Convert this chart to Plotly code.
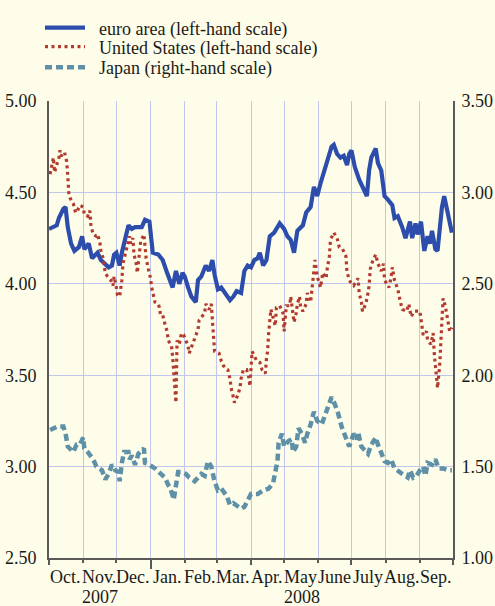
import plotly.graph_objects as go

euro_dates = ["2007-10-01","2007-10-04","2007-10-08","2007-10-10","2007-10-14","2007-10-16","2007-10-18","2007-10-21","2007-10-24","2007-10-28","2007-10-31","2007-11-02","2007-11-06","2007-11-09","2007-11-14","2007-11-17","2007-11-21","2007-11-24","2007-11-27","2007-11-29","2007-12-01","2007-12-04","2007-12-06","2007-12-09","2007-12-12","2007-12-15","2007-12-18","2007-12-24","2007-12-27","2007-12-31","2008-01-03","2008-01-08","2008-01-12","2008-01-16","2008-01-21","2008-01-24","2008-01-27","2008-01-30","2008-02-01","2008-02-04","2008-02-07","2008-02-11","2008-02-13","2008-02-16","2008-02-20","2008-02-23","2008-02-26","2008-02-28","2008-03-02","2008-03-05","2008-03-08","2008-03-13","2008-03-16","2008-03-19","2008-03-23","2008-03-26","2008-03-29","2008-04-01","2008-04-04","2008-04-07","2008-04-09","2008-04-12","2008-04-15","2008-04-18","2008-04-22","2008-04-27","2008-05-01","2008-05-04","2008-05-07","2008-05-10","2008-05-13","2008-05-18","2008-05-21","2008-05-25","2008-05-28","2008-05-31","2008-06-03","2008-06-09","2008-06-13","2008-06-15","2008-06-18","2008-06-21","2008-06-24","2008-06-27","2008-06-29","2008-07-01","2008-07-04","2008-07-08","2008-07-12","2008-07-15","2008-07-17","2008-07-19","2008-07-23","2008-07-25","2008-07-28","2008-07-31","2008-08-03","2008-08-07","2008-08-09","2008-08-12","2008-08-16","2008-08-19","2008-08-23","2008-08-25","2008-08-28","2008-08-30","2008-09-02","2008-09-05","2008-09-08","2008-09-10","2008-09-12","2008-09-15","2008-09-17","2008-09-21","2008-09-23","2008-09-26","2008-09-30"]
euro_values = [4.30,4.31,4.32,4.36,4.41,4.42,4.31,4.22,4.18,4.20,4.26,4.19,4.22,4.14,4.17,4.13,4.11,4.09,4.10,4.16,4.17,4.10,4.17,4.24,4.32,4.30,4.31,4.31,4.35,4.34,4.17,4.16,4.13,4.06,3.98,4.07,4.00,4.06,4.04,3.98,3.93,3.90,4.02,4.04,4.10,4.07,4.13,4.05,3.97,3.98,3.95,3.91,3.93,3.96,3.95,4.07,4.10,4.09,4.13,4.14,4.17,4.10,4.13,4.26,4.28,4.33,4.30,4.26,4.24,4.17,4.29,4.32,4.39,4.42,4.53,4.48,4.55,4.66,4.75,4.76,4.71,4.69,4.70,4.65,4.71,4.73,4.64,4.57,4.51,4.48,4.62,4.69,4.74,4.66,4.62,4.48,4.46,4.43,4.36,4.37,4.31,4.25,4.34,4.25,4.33,4.27,4.34,4.18,4.26,4.22,4.29,4.19,4.18,4.42,4.48,4.40,4.28]

us_dates = ["2007-10-02","2007-10-04","2007-10-05","2007-10-06","2007-10-10","2007-10-11","2007-10-12","2007-10-15","2007-10-17","2007-10-18","2007-10-19","2007-10-20","2007-10-23","2007-10-25","2007-10-26","2007-10-29","2007-11-01","2007-11-02","2007-11-05","2007-11-07","2007-11-08","2007-11-10","2007-11-13","2007-11-14","2007-11-16","2007-11-17","2007-11-19","2007-11-20","2007-11-21","2007-11-23","2007-11-26","2007-11-28","2007-11-29","2007-12-01","2007-12-02","2007-12-04","2007-12-05","2007-12-06","2007-12-07","2007-12-09","2007-12-10","2007-12-13","2007-12-14","2007-12-16","2007-12-17","2007-12-19","2007-12-20","2007-12-22","2007-12-23","2007-12-26","2007-12-27","2007-12-28","2007-12-30","2008-01-01","2008-01-02","2008-01-03","2008-01-05","2008-01-08","2008-01-09","2008-01-10","2008-01-12","2008-01-14","2008-01-16","2008-01-17","2008-01-20","2008-01-21","2008-01-22","2008-01-23","2008-01-24","2008-01-25","2008-01-27","2008-01-29","2008-01-31","2008-02-02","2008-02-04","2008-02-05","2008-02-08","2008-02-11","2008-02-13","2008-02-14","2008-02-19","2008-02-20","2008-02-23","2008-02-25","2008-02-26","2008-02-27","2008-02-28","2008-03-03","2008-03-05","2008-03-08","2008-03-11","2008-03-13","2008-03-14","2008-03-16","2008-03-17","2008-03-20","2008-03-22","2008-03-23","2008-03-25","2008-03-28","2008-03-30","2008-03-31","2008-04-01","2008-04-02","2008-04-06","2008-04-09","2008-04-11","2008-04-14","2008-04-15","2008-04-16","2008-04-17","2008-04-18","2008-04-19","2008-04-23","2008-04-24","2008-04-27","2008-04-30","2008-05-01","2008-05-03","2008-05-06","2008-05-07","2008-05-10","2008-05-12","2008-05-13","2008-05-15","2008-05-16","2008-05-18","2008-05-21","2008-05-22","2008-05-25","2008-05-27","2008-05-28","2008-05-29","2008-05-31","2008-06-03","2008-06-05","2008-06-08","2008-06-09","2008-06-11","2008-06-12","2008-06-15","2008-06-18","2008-06-20","2008-06-23","2008-06-26","2008-06-27","2008-06-30","2008-07-03","2008-07-07","2008-07-08","2008-07-10","2008-07-11","2008-07-14","2008-07-16","2008-07-17","2008-07-18","2008-07-20","2008-07-23","2008-07-25","2008-07-28","2008-07-30","2008-07-31","2008-08-04","2008-08-06","2008-08-07","2008-08-09","2008-08-12","2008-08-14","2008-08-16","2008-08-20","2008-08-22","2008-08-24","2008-08-27","2008-09-01","2008-09-02","2008-09-04","2008-09-07","2008-09-08","2008-09-11","2008-09-13","2008-09-14","2008-09-15","2008-09-16","2008-09-17","2008-09-19","2008-09-20","2008-09-21","2008-09-22","2008-09-24","2008-09-26","2008-09-28","2008-09-30"]
us_values = [4.60,4.66,4.69,4.61,4.69,4.73,4.70,4.72,4.67,4.59,4.49,4.47,4.44,4.39,4.39,4.43,4.42,4.38,4.37,4.40,4.32,4.27,4.26,4.27,4.23,4.18,4.14,4.10,4.06,4.04,4.02,3.99,4.04,3.98,3.94,3.93,3.97,4.02,4.11,4.16,4.19,4.26,4.22,4.25,4.16,4.11,4.06,4.19,4.23,4.27,4.22,4.14,4.08,4.03,3.98,3.95,3.90,3.89,3.87,3.83,3.83,3.78,3.74,3.69,3.66,3.60,3.53,3.45,3.35,3.69,3.67,3.73,3.72,3.69,3.66,3.62,3.67,3.71,3.75,3.80,3.84,3.89,3.86,3.89,3.81,3.72,3.63,3.62,3.58,3.54,3.53,3.48,3.43,3.38,3.35,3.39,3.43,3.48,3.53,3.53,3.49,3.44,3.58,3.63,3.58,3.57,3.53,3.51,3.59,3.63,3.73,3.82,3.86,3.77,3.87,3.88,3.84,3.74,3.88,3.88,3.93,3.79,3.84,3.89,3.93,3.87,3.85,3.89,3.95,3.90,4.00,4.08,4.13,4.04,3.98,4.06,4.03,4.08,4.15,4.24,4.28,4.25,4.20,4.19,4.15,4.06,4.01,3.99,4.03,3.95,3.90,3.85,3.89,3.95,3.99,4.08,4.12,4.16,4.11,4.07,4.11,4.02,3.98,4.04,4.09,4.02,3.97,3.91,3.86,3.85,3.89,3.82,3.85,3.85,3.80,3.72,3.74,3.69,3.67,3.73,3.62,3.56,3.49,3.43,3.56,3.69,3.83,3.92,3.88,3.80,3.74,3.76]

japan_dates = ["2007-10-02","2007-10-05","2007-10-09","2007-10-14","2007-10-16","2007-10-18","2007-10-23","2007-10-26","2007-10-29","2007-11-01","2007-11-02","2007-11-05","2007-11-10","2007-11-13","2007-11-18","2007-11-21","2007-11-24","2007-11-27","2007-11-30","2007-12-03","2007-12-04","2007-12-06","2007-12-08","2007-12-12","2007-12-13","2007-12-15","2007-12-18","2007-12-21","2007-12-24","2007-12-26","2007-12-27","2007-12-31","2008-01-05","2008-01-09","2008-01-14","2008-01-17","2008-01-19","2008-01-22","2008-01-24","2008-01-26","2008-01-29","2008-02-02","2008-02-05","2008-02-10","2008-02-13","2008-02-16","2008-02-19","2008-02-20","2008-02-22","2008-02-25","2008-02-28","2008-03-02","2008-03-05","2008-03-10","2008-03-13","2008-03-16","2008-03-19","2008-03-23","2008-03-26","2008-03-29","2008-04-01","2008-04-07","2008-04-12","2008-04-17","2008-04-21","2008-04-23","2008-04-25","2008-04-26","2008-04-29","2008-05-01","2008-05-05","2008-05-08","2008-05-09","2008-05-12","2008-05-14","2008-05-17","2008-05-20","2008-05-22","2008-05-25","2008-05-28","2008-05-31","2008-06-04","2008-06-07","2008-06-10","2008-06-13","2008-06-16","2008-06-19","2008-06-22","2008-06-25","2008-06-29","2008-07-03","2008-07-06","2008-07-07","2008-07-10","2008-07-13","2008-07-16","2008-07-19","2008-07-23","2008-07-25","2008-07-27","2008-07-31","2008-08-03","2008-08-06","2008-08-09","2008-08-13","2008-08-16","2008-08-21","2008-08-23","2008-08-26","2008-08-29","2008-09-01","2008-09-04","2008-09-06","2008-09-08","2008-09-12","2008-09-15","2008-09-18","2008-09-22","2008-09-27","2008-09-30"]
japan_values = [1.70,1.71,1.72,1.72,1.68,1.61,1.58,1.62,1.62,1.66,1.60,1.58,1.54,1.50,1.48,1.43,1.46,1.51,1.48,1.47,1.42,1.52,1.58,1.58,1.54,1.56,1.51,1.57,1.59,1.60,1.52,1.51,1.49,1.47,1.44,1.40,1.38,1.32,1.42,1.47,1.47,1.46,1.44,1.42,1.44,1.46,1.45,1.49,1.53,1.50,1.42,1.37,1.38,1.34,1.29,1.30,1.29,1.27,1.28,1.31,1.35,1.35,1.37,1.38,1.41,1.47,1.53,1.63,1.68,1.61,1.64,1.65,1.58,1.61,1.71,1.68,1.63,1.68,1.73,1.80,1.75,1.73,1.78,1.82,1.88,1.84,1.79,1.72,1.67,1.61,1.68,1.65,1.69,1.61,1.59,1.57,1.62,1.66,1.62,1.59,1.53,1.52,1.54,1.49,1.47,1.46,1.44,1.48,1.44,1.45,1.48,1.50,1.45,1.52,1.51,1.54,1.49,1.49,1.48,1.48]

month_labels = ["Oct.","Nov.","Dec.","Jan.","Feb.","Mar.","Apr.","May","June","July","Aug.","Sep."]
month_mid = ["2007-10-16","2007-11-15 12:00","2007-12-16","2008-01-16","2008-02-15","2008-03-16","2008-04-15 12:00","2008-05-16","2008-06-15 12:00","2008-07-16","2008-08-16","2008-09-15 12:00"]
year_labels = ["2007", "2008"]
year_pos = ["2007-11-16", "2008-05-17"]

left_ticks = [2.5, 3.0, 3.5, 4.0, 4.5, 5.0]
right_ticks = [1.0, 1.5, 2.0, 2.5, 3.0, 3.5]

BG = "#FEFDE9"
GRID = "#C3C6EC"
AX = "#5a5a5a"
FONT = "Tinos, Liberation Serif, DejaVu Serif, serif"
PAD = "\u00a0\u00a0"

fig = go.Figure()
fig.add_trace(go.Scatter(x=euro_dates, y=euro_values, mode="lines",
                         name=PAD + "euro area (left-hand scale)", legend="legend",
                         line=dict(color="#2C4DAC", width=4.2)))
fig.add_trace(go.Scatter(x=us_dates, y=us_values, mode="lines",
                         name=PAD + "United States (left-hand scale)", legend="legend2",
                         line=dict(color="#B23A2F", width=3.2, dash="3px,3.5px")))
fig.add_trace(go.Scatter(x=japan_dates, y=japan_values, mode="lines",
                         name=PAD + "Japan (right-hand scale)", xaxis="x2", yaxis="y2",
                         legend="legend3",
                         line=dict(color="#5E90A7", width=4.5, dash="7px,4px")))

def leg(yc):
    return dict(x=-0.0223, y=1 + (101 - yc) / 456.4, xanchor="left", yanchor="middle",
                bgcolor="rgba(0,0,0,0)", font=dict(family=FONT, size=18, color="#1a1a1a"),
                itemwidth=40)

xrange = ["2007-10-01", "2008-10-01"]
fig.update_layout(
    width=495, height=606,
    paper_bgcolor=BG, plot_bgcolor=BG,
    margin=dict(l=49, r=42, t=101, b=48, autoexpand=False),
    font=dict(family=FONT, size=17, color="#1a1a1a"),
    showlegend=True,
    legend=leg(28), legend2=leg(47), legend3=leg(67.5),
    xaxis=dict(type="date", range=xrange, tick0="2007-10-01", dtick="M3",
               ticks="outside", ticklen=5, tickwidth=1.5, tickcolor=AX,
               showticklabels=False, showgrid=True, gridcolor=GRID, gridwidth=1,
               showline=True, linecolor=AX, linewidth=2,
               minor=dict(dtick="M1", tick0="2007-10-01", ticks="outside", ticklen=3,
                          tickcolor=AX, tickwidth=1.5, showgrid=True, gridcolor=GRID, gridwidth=1),
               zeroline=False),
    xaxis2=dict(type="date", range=xrange, overlaying="x", anchor="y",
                tickvals=["2008-01-01"], ticks="outside", ticklen=10, tickwidth=1.5,
                tickcolor=AX, showticklabels=False, showgrid=False, showline=False,
                zeroline=False),
    yaxis=dict(range=[2.5, 5.0], tickvals=left_ticks, tickformat=".2f",
               showgrid=True, gridcolor=GRID, gridwidth=1, showline=True,
               linecolor=AX, linewidth=2, ticks="", zeroline=False,
               ticklabelstandoff=7, tickfont=dict(family=FONT, size=18)),
    yaxis2=dict(range=[1.0, 3.5], tickvals=right_ticks, tickformat=".2f",
                overlaying="y", side="right", anchor="x2",
                showgrid=False, showline=True, linecolor=AX, linewidth=2,
                ticks="", zeroline=False, ticklabelstandoff=3,
                tickfont=dict(family=FONT, size=18)),
)

for lab, pos in zip(month_labels, month_mid):
    fig.add_annotation(x=pos, y=-0.0425, xref="x", yref="paper", text=lab,
                       showarrow=False, yanchor="middle", xanchor="center",
                       font=dict(family=FONT, size=18, color="#1a1a1a"))
for lab, pos in zip(year_labels, year_pos):
    fig.add_annotation(x=pos, y=-0.0845, xref="x", yref="paper", text=lab,
                       showarrow=False, yanchor="middle", xanchor="center",
                       font=dict(family=FONT, size=18, color="#1a1a1a"))

fig.write_html("out.html", config={"displayModeBar": False},
               post_script="document.body.style.margin='0';document.body.style.overflow='hidden';document.body.style.background='#FEFDE9';")
